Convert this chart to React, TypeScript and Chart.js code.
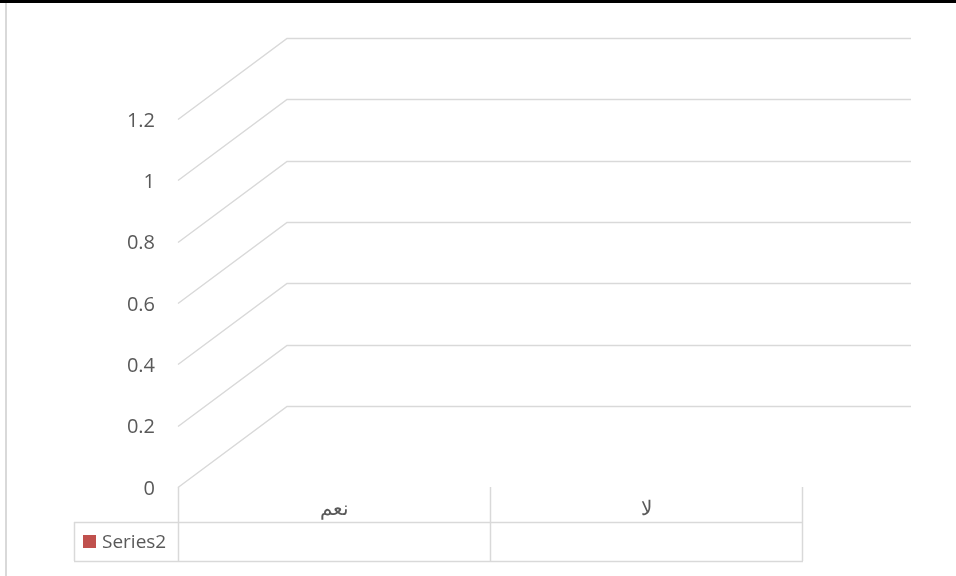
import React, { useEffect, useRef } from "react";
import { Chart, registerables } from "chart.js";

Chart.register(...registerables);

const categories: string[] = ["نعم", "لا"];
const seriesName = "Series2";
const seriesValues: (number | null)[] = [null, null];
const yTicks: number[] = [0, 0.2, 0.4, 0.6, 0.8, 1, 1.2];
const seriesColor = "#c0504d";

const FONT = "'Open Sans', 'Liberation Sans', sans-serif";
const TEXT = "#595959";
const GRID = "#d9d9d9";
const DEPTH_X = 109;
const DEPTH_Y = -81;

const wallPlugin = {
  id: "wall3d",
  beforeDatasetsDraw(chart: any) {
    const { ctx, chartArea, scales } = chart;
    const y = scales.y;
    ctx.save();
    ctx.strokeStyle = GRID;
    ctx.lineWidth = 1.5;
    for (const v of yTicks) {
      const py = Math.round(y.getPixelForValue(v)) + 0.5;
      ctx.beginPath();
      ctx.moveTo(chartArea.left, py);
      ctx.lineTo(chartArea.left + DEPTH_X, py + DEPTH_Y);
      ctx.lineTo(chartArea.right + DEPTH_X, py + DEPTH_Y);
      ctx.stroke();
    }
    // y tick labels
    ctx.fillStyle = TEXT;
    ctx.font = `20px ${FONT}`;
    ctx.textAlign = "right";
    ctx.textBaseline = "middle";
    for (const v of yTicks) {
      ctx.fillText(String(v), chartArea.left - 23, y.getPixelForValue(v) + 2);
    }
    ctx.restore();
  },
  afterDraw(chart: any) {
    const { ctx, chartArea, scales } = chart;
    const x = scales.x;
    const n = categories.length;
    const step = (chartArea.right - chartArea.left) / n;
    const top = chartArea.bottom;
    const rowSplit = top + 35;
    const bottom = top + 74;
    const tableLeft = 74;
    ctx.save();
    ctx.strokeStyle = GRID;
    ctx.lineWidth = 1.5;
    for (let i = 0; i <= n; i++) {
      const px =
        i < n ? x.getPixelForValue(i) - step / 2 : x.getPixelForValue(n - 1) + step / 2;
      ctx.beginPath();
      ctx.moveTo(Math.round(px) + 0.5, top);
      ctx.lineTo(Math.round(px) + 0.5, bottom);
      ctx.stroke();
    }
    ctx.beginPath();
    ctx.moveTo(tableLeft, rowSplit + 0.5);
    ctx.lineTo(chartArea.right + 1, rowSplit + 0.5);
    ctx.moveTo(tableLeft, bottom + 0.5);
    ctx.lineTo(chartArea.right + 1, bottom + 0.5);
    ctx.moveTo(tableLeft + 0.5, rowSplit);
    ctx.lineTo(tableLeft + 0.5, bottom);
    ctx.stroke();

    ctx.fillStyle = TEXT;
    ctx.font = `20px ${FONT}`;
    ctx.textAlign = "center";
    ctx.textBaseline = "middle";
    categories.forEach((c, i) => {
      ctx.fillText(c, x.getPixelForValue(i), top + 22);
    });

    const midRow = (rowSplit + bottom) / 2;
    ctx.fillStyle = seriesColor;
    ctx.fillRect(83, midRow - 6.5, 13, 13);
    ctx.fillStyle = TEXT;
    ctx.font = `19px ${FONT}`;
    ctx.textAlign = "left";
    ctx.fillText(seriesName, 102, midRow + 1);

    ctx.textAlign = "center";
    seriesValues.forEach((v, i) => {
      if (v !== null && v !== undefined) ctx.fillText(String(v), x.getPixelForValue(i), midRow);
    });
    ctx.restore();
  },
};

export default function App() {
  const ref = useRef<HTMLCanvasElement | null>(null);
  useEffect(() => {
    document.body.style.margin = "0";
    const chart = new Chart(ref.current as HTMLCanvasElement, {
      type: "bar",
      data: {
        labels: categories,
        datasets: [
          {
            label: seriesName,
            data: seriesValues as any,
            backgroundColor: seriesColor,
          },
        ],
      },
      options: {
        animation: false,
        responsive: false,
        layout: { padding: { top: 119, bottom: 89, right: 154, left: 0 } },
        plugins: { legend: { display: false }, tooltip: { enabled: false } },
        scales: {
          x: { display: false, offset: true },
          y: {
            min: 0,
            max: 1.2,
            afterFit: (s: any) => {
              s.width = 178;
            },
            afterBuildTicks: (s: any) => {
              s.ticks = yTicks.map((v) => ({ value: v }));
            },
            border: { display: false },
            grid: { display: false, drawTicks: false },
            ticks: { display: false },
          },
        },
      },
      plugins: [wallPlugin],
    });
    return () => chart.destroy();
  }, []);
  return (
    <div
      style={{
        position: "absolute",
        left: 0,
        top: 0,
        width: 956,
        height: 576,
        background: "#fff",
        overflow: "hidden",
      }}
    >
      <div style={{ position: "absolute", left: 0, top: 0, width: 956, height: 3, background: "#000" }} />
      <div style={{ position: "absolute", left: 5, top: 3, width: 1.5, height: 573, background: "#d9d9d9" }} />
      <canvas ref={ref} width={956} height={576} style={{ display: "block" }} />
    </div>
  );
}
